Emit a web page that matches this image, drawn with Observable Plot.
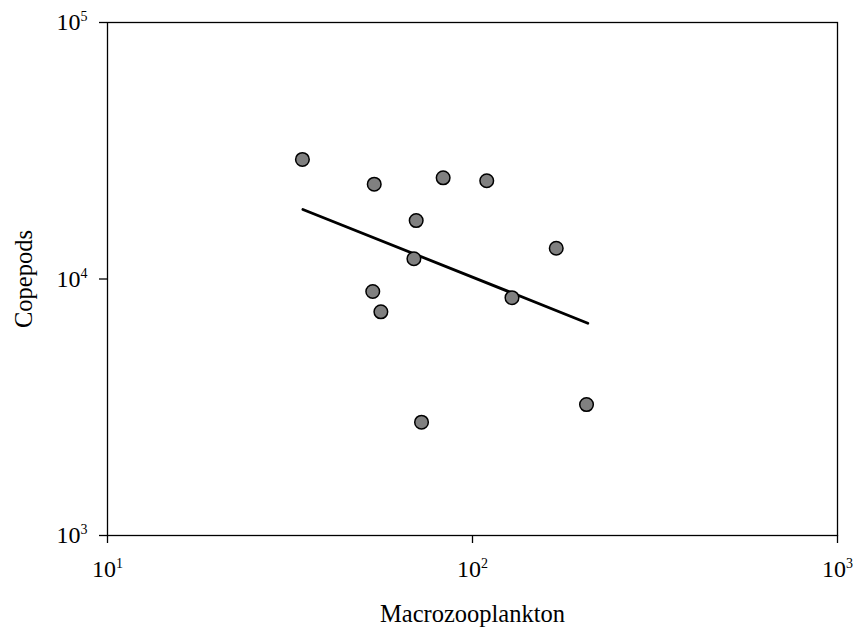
<!DOCTYPE html>
<html><head><meta charset="utf-8">
<script src="https://cdn.jsdelivr.net/npm/d3@7"></script>
<script src="https://cdn.jsdelivr.net/npm/@observablehq/plot@0.6"></script>
<style>
body{margin:0;background:#fff;}
svg{display:block;}
</style>
</head><body><div id="chart"></div>
<script>
// Scatter data
const macrozooplankton = [34.2, 53.8, 83.1, 109.4, 70.1, 69.1, 53.3, 56.1, 128.3, 169.6, 72.5, 205.3];
const copepods        = [29250, 23420, 24800, 24150, 16900, 11990, 8940, 7450, 8455, 13180, 2765, 3240];
// Regression line end points
const fitX = [34.3, 207];
const fitY = [18670, 6725];
// Axis ticks
const xTicks = [10, 100, 1000];
const yTicks = [1000, 10000, 100000];
const xTitle = "Macrozooplankton";
const yTitle = "Copepods";

const points = macrozooplankton.map((x, i) => ({x, y: copepods[i]}));
const fit = fitX.map((x, i) => ({x, y: fitY[i]}));
const fmt = d => `10^${Math.round(Math.log10(d))}`;

const chart = Plot.plot({
  width: 853,
  height: 629,
  marginLeft: 107,
  marginRight: 16,
  marginTop: 22,
  marginBottom: 94,
  style: {fontFamily: "'Liberation Serif', 'Times New Roman', serif", fontSize: "24px", color: "#000", background: "#fff"},
  x: {type: "log", domain: [10, 1000]},
  y: {type: "log", domain: [1000, 100000]},
  marks: [
    Plot.frame({stroke: "#000", strokeWidth: 1.3}),
    Plot.axisX({ticks: xTicks, tickFormat: fmt, tickSize: 8, tickPadding: 16, strokeWidth: 1.3,
                fontSize: 24, label: null}),
    Plot.axisY({ticks: yTicks, tickFormat: fmt, tickSize: 8, tickPadding: 12, strokeWidth: 1.3,
                fontSize: 24, label: null}),
    Plot.text([xTitle], {frameAnchor: "bottom", dy: 86, fontSize: 24.5, textAnchor: "middle", text: d => d}),
    Plot.text([yTitle], {frameAnchor: "left", dx: -83, rotate: -90, fontSize: 24.5, textAnchor: "middle", text: d => d}),
    Plot.line(fit, {x: "x", y: "y", stroke: "#000", strokeWidth: 2.8}),
    Plot.dot(points, {x: "x", y: "y", r: 6.8, fill: "#808080", stroke: "#000", strokeWidth: 1.5})
  ]
});

// superscript exponents in tick labels
chart.querySelectorAll('text').forEach(t => {
  const s = t.textContent;
  if (!s.includes("^")) return;
  const [base, exp] = s.split("^");
  t.textContent = base;
  const sp = document.createElementNS("http://www.w3.org/2000/svg", "tspan");
  sp.setAttribute("dy", "-9");
  sp.setAttribute("font-size", "14");
  sp.textContent = exp;
  t.appendChild(sp);
});
document.getElementById("chart").appendChild(chart);
</script>
</body></html>
